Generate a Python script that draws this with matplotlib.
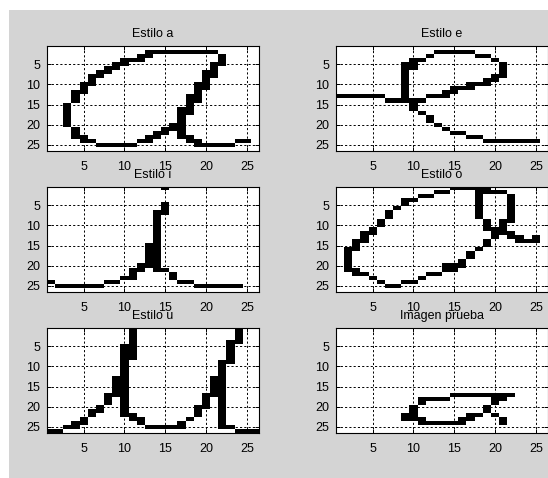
#! /usr/bin/env python3
"""Binary 26x26 images of handwritten vowel styles plus a test image."""

import matplotlib

matplotlib.use("Agg")
import matplotlib.pyplot as plt  # noqa: E402
import numpy as np  # noqa: E402
from matplotlib.patches import Rectangle  # noqa: E402

SIZE = 26
TICKS = [5, 10, 15, 20, 25]
TITLES = ["Estilo a", "Estilo e", "Estilo i", "Estilo o", "Estilo u", "Imagen prueba"]

# Black pixels per image row (row 1 at the top), as column runs "a-b".
ESTILO_A = [
    "", "13-21", "12-13 22", "10-12 22", "9-10 21-22", "8-9 21", "7-8 20-21",
    "6-7 20-21", "6 20", "5-6 19-20", "5 19-20", "4-5 19", "4 18-19", "4 18-19",
    "3 18", "3 17-18", "3 17-18", "3 17", "3 17", "3 16-17", "4 15-17",
    "4 14-15 17", "4-5 13-14 17-18", "5-6 12-13 18-19 24-25", "7-11 19-23", "",
]
ESTILO_E = [
    "", "13-17", "12 18-19", "10-11 20", "9-10 21", "9-10 21", "9 21", "9 20-21",
    "9 19-20", "9 17-19", "9 15-17", "9 14-15", "1-6 9 12-14", "7-11", "10",
    "10", "11", "12", "12", "13", "14", "15-16", "17-18", "19-25", "", "",
]
ESTILO_I = [
    "15", "", "", "", "15", "15", "14-15", "14", "14", "14", "14", "14", "14",
    "14", "13-14", "13-14", "13-14", "13-14", "13-14", "12-14", "11-12 14-15",
    "11 16", "10-11 16", "1 8-9 17-18", "2-7 19-24", "",
]
ESTILO_O = [
    "15-19", "13-14 18-21", "11-12 18 22", "9-10 18 22", "9 18 22", "8 18 22",
    "7 18 22", "7 18 22", "6 19 21-22", "6 19 21", "5 19-21", "4-5 20-22",
    "4 20 22-23 25", "3-4 19 23-25", "3 19", "2-3 18", "2 17", "2 17", "2 16",
    "2 14-16", "2-3 14-15", "3-4 12-13", "5 11", "6 9-10", "7-8", "",
]
ESTILO_U = [
    "11 24", "11 24", "11 24", "11 23-24", "10-11 23", "10-11 23", "10-11 23",
    "10-11 23", "10 22-23", "10 22", "10 22", "10 22", "9-10 21-22",
    "9-10 21-22", "9-10 21-22", "9-10 21-22", "8-10 20-22", "8 10 20 22",
    "8 10 20 22", "7 10 19-20 22", "6-7 10 19 22", "6 10-11 19 22",
    "5 11-12 18 22", "4-5 12 17 22", "3-4 13-17 22-23", "1-2 24-26",
]
IMAGEN_PRUEBA = [""] * 16 + [
    "15-22", "11-14 20-21", "11 20", "10 19", "10 19", "9-10 17-18 20",
    "9-11 16-17 21", "11-16 21", "", "",
]

IMAGES = [ESTILO_A, ESTILO_E, ESTILO_I, ESTILO_O, ESTILO_U, IMAGEN_PRUEBA]


def to_array(rows):
    img = np.zeros((SIZE, SIZE))
    for r, spec in enumerate(rows):
        for run in spec.split():
            a, _, b = run.partition("-")
            img[r, int(a) - 1:int(b or a)] = 1
    return img


def main():
    plt.rcParams["font.family"] = ["Liberation Sans", "DejaVu Sans"]
    W, H = 548, 478
    fig = plt.figure(figsize=(W / 100, H / 100), dpi=100, facecolor="white")
    fig.add_artist(Rectangle((9 / W, 0), 1, 1 - 10 / H, transform=fig.transFigure,
                             facecolor="#d4d4d4", edgecolor="none", zorder=-10))

    lefts = [47, 336]
    tops = [46, 187, 328]
    for i, (rows, title) in enumerate(zip(IMAGES, TITLES)):
        x0 = lefts[i % 2]
        y0 = tops[i // 2]
        ax = fig.add_axes([x0 / W, 1 - (y0 + 105) / H, 212 / W, 105 / H])
        ax.imshow(to_array(rows), cmap="gray_r", vmin=0, vmax=1, aspect="auto",
                  interpolation="nearest", extent=(0.5, SIZE + 0.5, SIZE + 0.5, 0.5))
        ax.set_xticks(TICKS)
        ax.set_yticks(TICKS)
        ax.tick_params(direction="in", length=3, width=0.7, labelsize=9,
                       top=True, right=True, pad=5, colors="black")
        ax.tick_params(axis="x", pad=7)
        ax.grid(True, color="black", linestyle=(0, (2.2, 2.2)), linewidth=0.7)
        ax.set_axisbelow(False)
        for s in ax.spines.values():
            s.set_linewidth(0.8)
        ax.set_title(title, fontsize=9, pad=6.5)

    fig.savefig("out.png", dpi=100, facecolor=fig.get_facecolor())


if __name__ == "__main__":
    main()
